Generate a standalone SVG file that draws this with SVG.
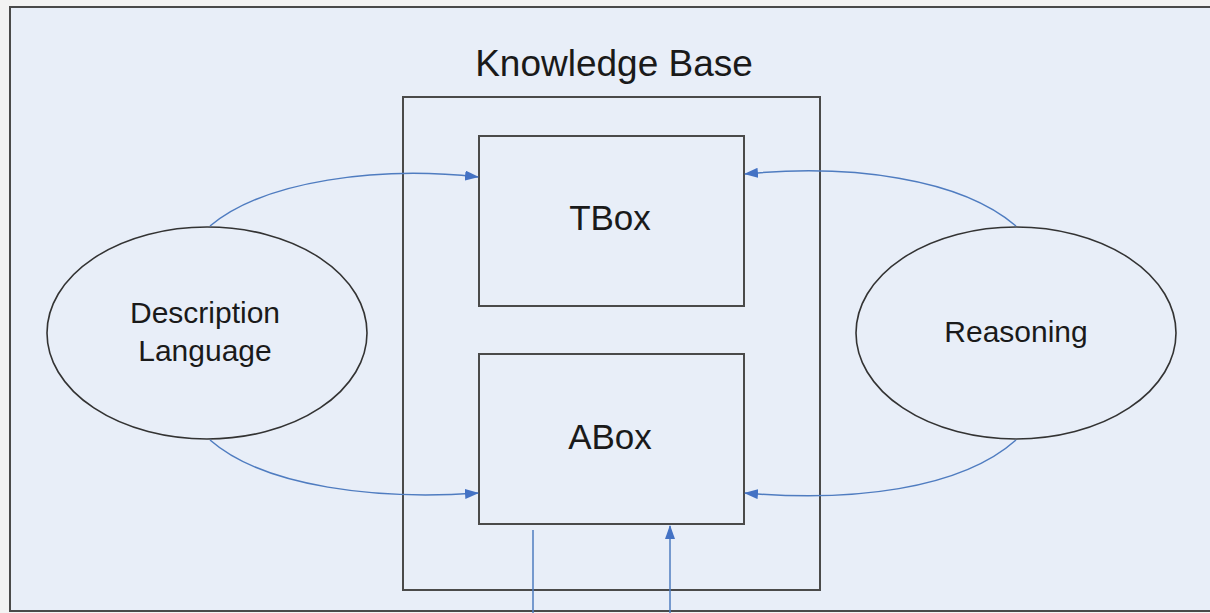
<svg xmlns="http://www.w3.org/2000/svg" width="1210" height="613" viewBox="0 0 1210 613">
  <style>
    .box { fill: none; stroke: #4a4a4a; stroke-width: 2; }
    .ell { fill: none; stroke: #333; stroke-width: 1.6; }
    .lbl { font-family: "Liberation Sans", Arial, sans-serif; fill: #1a1a1a; text-anchor: middle; }
    .conn { fill: none; stroke: #4f7cc0; stroke-width: 1.5; }
  </style>
  <defs>
    <marker id="arrow" viewBox="0 0 14 10" refX="13" refY="5" markerWidth="14" markerHeight="10" markerUnits="userSpaceOnUse" orient="auto">
      <path d="M0,0 L14,5 L0,10 z" fill="#4472c4"/>
    </marker>
  </defs>

  <!-- page background and frame -->
  <rect x="0" y="0" width="1210" height="613" fill="#f3f3f3"/>
  <rect x="10" y="7" width="1210" height="604" fill="#e8eef8" stroke="#4a4a4a" stroke-width="2"/>

  <g id="knowledge-base">
    <rect class="box" x="403" y="97" width="417" height="493"/>
    <text class="lbl" x="614" y="76" font-size="37">Knowledge Base</text>
  </g>

  <g id="tbox">
    <rect class="box" x="479" y="136" width="265" height="170"/>
    <text class="lbl" x="610" y="230" font-size="35">TBox</text>
  </g>

  <g id="abox">
    <rect class="box" x="479" y="354" width="265" height="170"/>
    <text class="lbl" x="610" y="449" font-size="35">ABox</text>
  </g>

  <g id="description-language">
    <ellipse class="ell" cx="207" cy="333" rx="160" ry="106"/>
    <text class="lbl" x="205" y="323" font-size="30">Description</text>
    <text class="lbl" x="205" y="361" font-size="30">Language</text>
  </g>

  <g id="reasoning">
    <ellipse class="ell" cx="1016" cy="333" rx="160" ry="106"/>
    <text class="lbl" x="1016" y="342" font-size="30">Reasoning</text>
  </g>

  <g id="connectors">
    <path class="conn" d="M210,226 C265,180 380,166 478,177" marker-end="url(#arrow)"/>
    <path class="conn" d="M210,440 C265,488 380,500 478,493" marker-end="url(#arrow)"/>
    <path class="conn" d="M1016,226 C960,178 850,164 745,174" marker-end="url(#arrow)"/>
    <path class="conn" d="M1016,440 C960,490 850,502 745,493" marker-end="url(#arrow)"/>
    <path class="conn" d="M533,530 L533,613"/>
    <path class="conn" d="M670,613 L670,526" marker-end="url(#arrow)"/>
  </g>
</svg>
